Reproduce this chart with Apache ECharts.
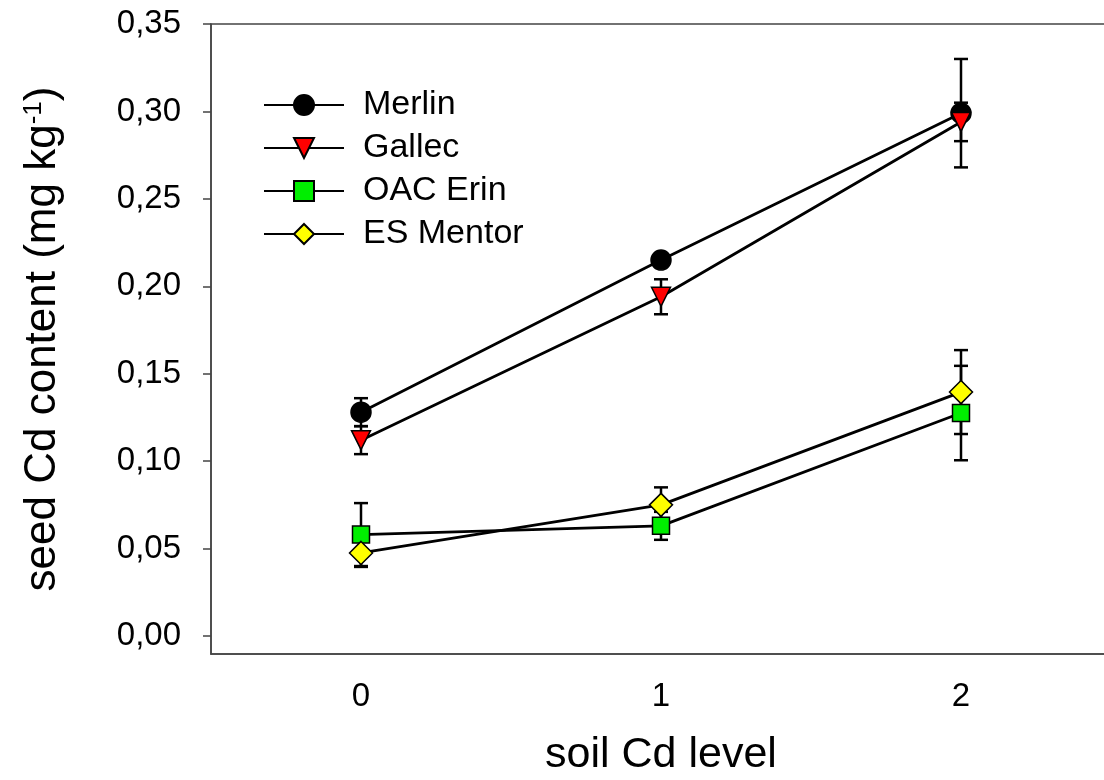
<!DOCTYPE html>
<html>
<head>
    <meta charset="utf-8" />
    <title>seed Cd content</title>
    <script src="https://cdn.jsdelivr.net/npm/echarts@6/dist/echarts.min.js"></script>
    <style>
        html, body { margin: 0; padding: 0; background: #fff; }
        #chart { width: 1104px; height: 780px; }
    </style>
</head>
<body>
    <div id="chart"></div>
    <script>
        // data
        var levels = ['0', '1', '2'];
        var yTicks = [0, 0.05, 0.10, 0.15, 0.20, 0.25, 0.30, 0.35];

        var merlin = [0.128, 0.215, 0.299];
        var merlinErr = [0.008, 0.003, 0.031];
        var gallec = [0.112, 0.194, 0.294];
        var gallecErr = [0.008, 0.010, 0.011];
        var erin = [0.058, 0.063, 0.1275];
        var erinErr = [0.018, 0.008, 0.027];
        var mentor = [0.0475, 0.075, 0.1395];
        var mentorErr = [0.008, 0.010, 0.024];

        var FONT = '"Liberation Sans", Arial, sans-serif';

        // error bars drawn with a custom series
        function errData(vals, errs) {
            return vals.map(function (v, i) { return [i, v, errs[i]]; });
        }
        function renderErr(params, api) {
            var x = api.value(0), m = api.value(1), e = api.value(2);
            var hi = api.coord([x, m + e]);
            var lo = api.coord([x, m - e]);
            var w = 7;
            var st = { stroke: '#000', lineWidth: 2.5 };
            return {
                type: 'group',
                children: [
                    { type: 'line', shape: { x1: hi[0], y1: hi[1], x2: lo[0], y2: lo[1] }, style: st },
                    { type: 'line', shape: { x1: hi[0] - w, y1: hi[1], x2: hi[0] + w, y2: hi[1] }, style: st },
                    { type: 'line', shape: { x1: lo[0] - w, y1: lo[1], x2: lo[0] + w, y2: lo[1] }, style: st }
                ]
            };
        }
        function errSeries(vals, errs) {
            return {
                type: 'custom',
                renderItem: renderErr,
                data: errData(vals, errs),
                encode: { x: 0, y: 1 },
                z: 1,
                silent: true
            };
        }
        function lineSeries(name, vals, symbol, size, color, rotate) {
            return {
                name: name,
                type: 'line',
                data: vals,
                symbol: symbol,
                symbolSize: size,
                symbolRotate: rotate || 0,
                showAllSymbol: true,
                lineStyle: { color: '#000', width: 2.8 },
                itemStyle: { color: color, borderColor: '#000', borderWidth: 1.5 },
                z: 3,
                animation: false
            };
        }

        var chart = echarts.init(document.getElementById('chart'));
        chart.setOption({
            animation: false,
            backgroundColor: '#fff',
            grid: {
                left: 211, top: 24, width: 900, bottom: 126,
                outerBoundsMode: 'none',
                containLabel: false,
                show: true, borderColor: '#444', borderWidth: 1.5
            },
            legend: {
                left: 263, top: 88, orient: 'vertical', padding: 0,
                itemWidth: 80, itemHeight: 25, itemGap: 9,
                textStyle: { fontFamily: FONT, fontSize: 34, color: '#000', padding: [0, 0, 0, 14] },
                data: ['Merlin', 'Gallec', 'OAC Erin', 'ES Mentor']
            },
            xAxis: {
                type: 'category',
                data: levels,
                boundaryGap: true,
                name: 'soil Cd level',
                nameLocation: 'middle',
                nameGap: 80,
                nameTextStyle: { fontFamily: FONT, fontSize: 43, color: '#000' },
                axisLine: { onZero: false, lineStyle: { color: '#444', width: 1.5 } },
                axisTick: { alignWithLabel: true, length: 8, lineStyle: { color: '#444', width: 1.5 } },
                axisLabel: { fontFamily: FONT, fontSize: 33, color: '#000', margin: 26 },
                splitLine: { show: false }
            },
            yAxis: {
                type: 'value',
                min: -0.0103,
                max: 0.35,
                name: 'seed Cd content (mg kg{sup|-1})',
                nameLocation: 'middle',
                nameGap: 146,
                nameTextStyle: {
                    fontFamily: FONT, fontSize: 44, color: '#000',
                    rich: { sup: { fontFamily: FONT, fontSize: 26, color: '#000', verticalAlign: 'top', padding: [0, 0, 16, 0] } }
                },
                axisLine: { show: true, onZero: false, lineStyle: { color: '#444', width: 1.5 } },
                axisTick: { show: true, length: 8, customValues: yTicks, lineStyle: { color: '#444', width: 1.5 } },
                axisLabel: {
                    fontFamily: FONT, fontSize: 33, color: '#000', margin: 30,
                    customValues: yTicks,
                    formatter: function (v) { return v.toFixed(2).replace('.', ','); }
                },
                splitLine: { show: false }
            },
            series: [
                errSeries(merlin, merlinErr),
                errSeries(gallec, gallecErr),
                errSeries(erin, erinErr),
                errSeries(mentor, mentorErr),
                lineSeries('Merlin', merlin, 'circle', 20, '#000'),
                lineSeries('Gallec', gallec, 'triangle', 19, '#ff0000', 180),
                lineSeries('OAC Erin', erin, 'rect', 17, '#00ee00'),
                lineSeries('ES Mentor', mentor, 'diamond', 23, '#ffff00')
            ]
        });
    </script>
</body>
</html>
